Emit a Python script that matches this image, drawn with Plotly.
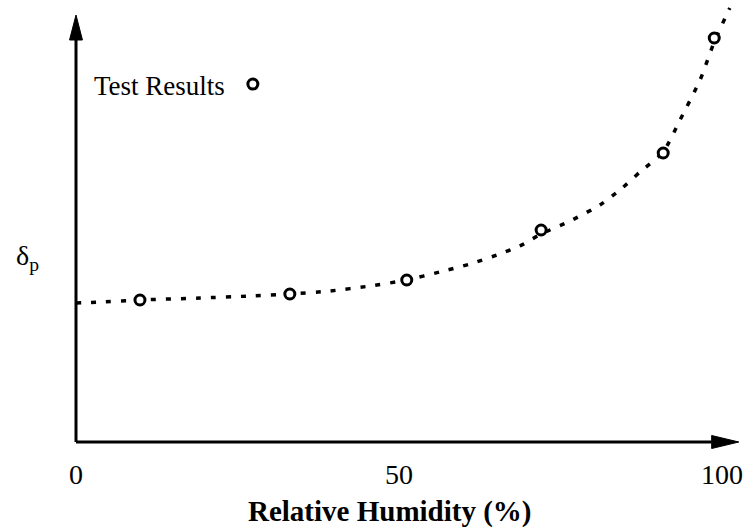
import plotly.graph_objects as go

# ---- data ----
rh_points = [9.9, 33.1, 51.2, 72.0, 90.9, 98.8]
dp_points = [1.42, 1.48, 1.62, 2.12, 2.89, 4.04]

rh_curve = [0, 3.7, 9.9, 19.2, 26.9, 33.1, 39.3, 45.5, 51.2, 56.3, 61.0, 65.6,
            68.7, 72.0, 76.5, 81.1, 84.2, 87.3, 90.9, 93.5, 96.6, 98.8, 101.2]
dp_curve = [1.39, 1.40, 1.42, 1.44, 1.46, 1.48, 1.51, 1.56, 1.62, 1.70, 1.78, 1.88,
            1.96, 2.08, 2.21, 2.37, 2.52, 2.70, 2.90, 3.22, 3.62, 4.00, 4.34]

x_ticks = [0, 50, 100]
x_ticktext = ["0", "50", "100"]

FONT = "Liberation Serif"
W, H = 746, 529
XR = [-11.765, 103.715]
YR = [-0.87, 4.42]

fig = go.Figure()
fig.add_trace(go.Scatter(
    x=rh_curve, y=dp_curve, mode="lines", showlegend=False,
    line=dict(color="black", width=3.5, dash="5px,10px", shape="spline", smoothing=0.6),
    hoverinfo="skip"))
fig.add_trace(go.Scatter(
    x=rh_points, y=dp_points, mode="markers", name="",
    marker=dict(symbol="circle", size=10, color="white",
                line=dict(color="black", width=3)),
    showlegend=True))

# axis lines with arrowheads
x_end = 98.4
x_tip = 102.6
y_end = 4.02
y_tip = 4.27
fig.add_shape(type="line", x0=0, y0=0, x1=x_end, y1=0, line=dict(color="black", width=3))
fig.add_shape(type="line", x0=0, y0=0, x1=0, y1=y_end, line=dict(color="black", width=3))
fig.add_shape(type="path",
              path=f"M {x_end},-0.065 L {x_tip},0 L {x_end},0.065 Z",
              fillcolor="black", line=dict(color="black", width=1))
fig.add_shape(type="path",
              path=f"M -1.0,{y_end} L 0,{y_tip} L 1.0,{y_end} Z",
              fillcolor="black", line=dict(color="black", width=1))

fig.add_annotation(text="<b>Relative Humidity (%)</b>", xref="paper", yref="paper",
                   x=390 / W, y=(H - 511) / H, xanchor="center", yanchor="middle",
                   showarrow=False, font=dict(family=FONT, size=29, color="black"))
fig.add_annotation(text="δ<sub>p</sub>", xref="paper", yref="paper",
                   x=27 / W, y=(H - 257) / H, xanchor="center", yanchor="middle",
                   showarrow=False, font=dict(family=FONT, size=28, color="black"))

fig.update_layout(
    width=W, height=H,
    margin=dict(l=0, r=0, t=0, b=0),
    paper_bgcolor="white", plot_bgcolor="white",
    font=dict(family=FONT, color="black"),
    xaxis=dict(range=XR, anchor="free", position=(H - 442) / H,
               tickvals=x_ticks, ticktext=x_ticktext, ticks="",
               showline=False, showgrid=False, zeroline=False,
               tickfont=dict(family=FONT, size=28, color="black"),
               ticklabelstandoff=13, fixedrange=True),
    yaxis=dict(range=YR, visible=False, fixedrange=True),
    legend=dict(title=dict(text="Test Results", side="left",
                           font=dict(family=FONT, size=27, color="black")),
                x=92 / W, y=(H - 60) / H, xanchor="left", yanchor="top",
                bgcolor="rgba(0,0,0,0)", borderwidth=0,
                font=dict(family=FONT, size=27, color="black"),
                itemwidth=30),
)

fig.write_html("out.html")
